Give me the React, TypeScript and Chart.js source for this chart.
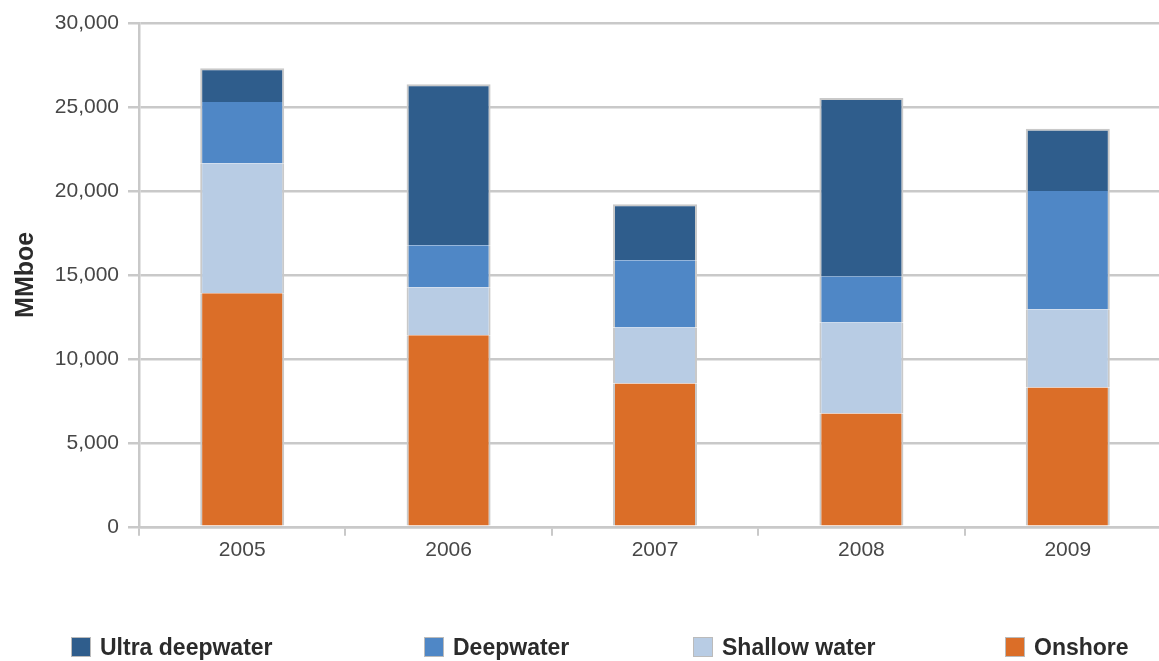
import React, { useEffect, useRef } from "react";
import { Chart, registerables } from "chart.js";

Chart.register(...registerables);

// ---- data ----
const years = ["2005", "2006", "2007", "2008", "2009"];
const onshore = [13900, 11400, 8530, 6740, 8300];
const shallowWater = [7750, 2860, 3340, 5430, 4650];
const deepwater = [3650, 2500, 4000, 2750, 7050];
const ultraDeepwater = [2000, 9600, 3340, 10620, 3700];
const yAxisTitle = "MMboe";
const yMin = 0;
const yMax = 30000;
const yStep = 5000;

// legend order (top to bottom of the stack)
const legendNames = ["Ultra deepwater", "Deepwater", "Shallow water", "Onshore"];
const legendColors = ["#2f5d8c", "#4f87c6", "#b8cce4", "#db6e28"];
const legendLeft = [71, 424, 693, 1005];

const FONT = "'Liberation Sans', Arial, Helvetica, sans-serif";
const GRID = "#c9c9c9";

export default function App() {
  const ref = useRef<HTMLCanvasElement | null>(null);

  useEffect(() => {
    if (!ref.current) return;
    const side = { left: 2, right: 2, top: 0, bottom: 0 };
    const topSide = { left: 2, right: 2, top: 2, bottom: 0 };
    const chart = new Chart(ref.current, {
      type: "bar",
      data: {
        labels: years,
        datasets: [
          { label: "Onshore", data: onshore, backgroundColor: legendColors[3], borderColor: GRID, borderWidth: side, borderSkipped: false },
          { label: "Shallow water", data: shallowWater, backgroundColor: legendColors[2], borderColor: GRID, borderWidth: side, borderSkipped: false },
          { label: "Deepwater", data: deepwater, backgroundColor: legendColors[1], borderColor: GRID, borderWidth: side, borderSkipped: false },
          { label: "Ultra deepwater", data: ultraDeepwater, backgroundColor: legendColors[0], borderColor: GRID, borderWidth: topSide, borderSkipped: false },
        ],
      },
      options: {
        animation: false,
        responsive: true,
        maintainAspectRatio: false,
        layout: { padding: { top: 23, right: 1, bottom: 96, left: 0 } },
        datasets: { bar: { categoryPercentage: 1, barPercentage: 0.407 } },
        plugins: {
          legend: { display: false },
          tooltip: { enabled: false },
        },
        scales: {
          x: {
            stacked: true,
            offset: true,
            grid: { display: true, drawOnChartArea: false, drawTicks: true, tickLength: 9, color: GRID, lineWidth: 2, offset: true },
            border: { display: true, color: GRID, width: 2.5 },
            ticks: { color: "#474747", font: { family: FONT, size: 21 }, padding: 2 },
          },
          y: {
            stacked: true,
            min: yMin,
            max: yMax,
            afterFit: (scale: any) => {
              scale.width = 139;
            },
            ticks: {
              stepSize: yStep,
              color: "#474747",
              font: { family: FONT, size: 21 },
              padding: 9,
              callback: (v: any) => Number(v).toLocaleString("en-US"),
            },
            grid: { color: GRID, lineWidth: 2.5, tickLength: 11 },
            border: { display: true, color: GRID, width: 2.5 },
            title: {
              display: true,
              text: yAxisTitle,
              color: "#2b2b2b",
              font: { family: FONT, size: 25, weight: "bold" },
              padding: { top: 11, bottom: 0 },
            },
          },
        },
      },
    });
    return () => chart.destroy();
  }, []);

  return (
    <div style={{ position: "fixed", left: 0, top: 0, width: 1159, height: 661, overflow: "hidden", background: "#fff" }}>
      <div style={{ position: "absolute", left: 0, top: 0, width: 1172, height: 661 }}>
        <canvas ref={ref} />
      </div>
      {legendNames.map((name, i) => (
        <div
          key={name}
          style={{
            position: "absolute",
            left: legendLeft[i],
            top: 634,
            height: 26,
            display: "flex",
            alignItems: "center",
            fontFamily: FONT,
            fontWeight: "bold",
            fontSize: 23,
            color: "#2b2b2b",
            whiteSpace: "nowrap",
          }}
        >
          <span
            style={{
              display: "inline-block",
              width: 18,
              height: 18,
              background: legendColors[i],
              border: "1.5px solid #bbb",
              marginRight: 9,
            }}
          />
          {name}
        </div>
      ))}
    </div>
  );
}
